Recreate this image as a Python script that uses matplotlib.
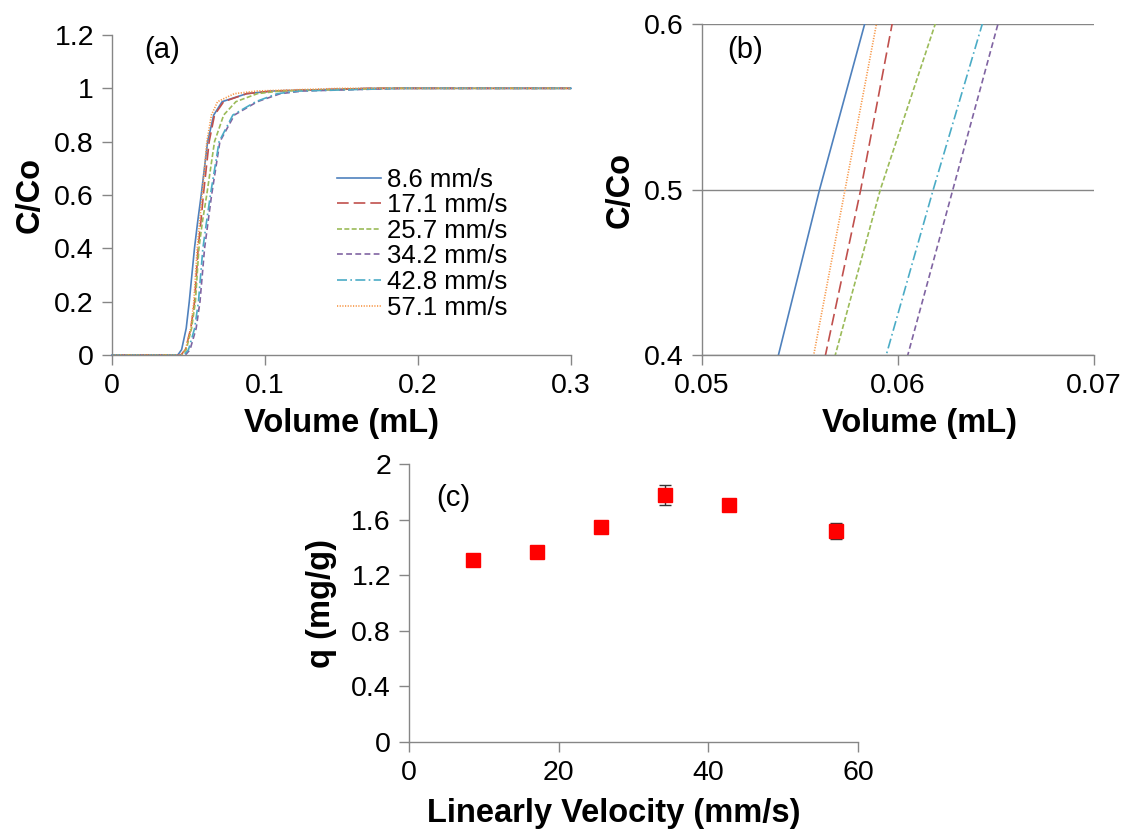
import matplotlib
matplotlib.use("Agg")
import matplotlib.pyplot as plt
from matplotlib.ticker import FuncFormatter

plt.rcParams["font.family"] = ["Liberation Sans", "DejaVu Sans"]

# breakthrough curves, C/Co levels and the volume (mL) where each run reaches them
LEVELS = [0, 0, 0.02, 0.1, 0.2, 0.4, 0.5, 0.6, 0.8, 0.9, 0.95, 0.98, 0.99, 1.0, 1.0]
VOL_8_6 = [0, 0.043, 0.0455, 0.0485, 0.0505, 0.0539, 0.0560, 0.0583, 0.0625, 0.0665, 0.072, 0.088, 0.105, 0.17, 0.3]
VOL_17_1 = [0, 0.045, 0.048, 0.0515, 0.054, 0.0563, 0.0581, 0.0597, 0.0635, 0.067, 0.073, 0.088, 0.105, 0.17, 0.3]
VOL_25_7 = [0, 0.0455, 0.0485, 0.052, 0.0545, 0.0568, 0.0591, 0.0619, 0.067, 0.073, 0.081, 0.095, 0.11, 0.18, 0.3]
VOL_34_2 = [0, 0.048, 0.051, 0.055, 0.0575, 0.0605, 0.0628, 0.0651, 0.0705, 0.080, 0.095, 0.11, 0.125, 0.19, 0.3]
VOL_42_8 = [0, 0.047, 0.050, 0.054, 0.0565, 0.0594, 0.0618, 0.0643, 0.070, 0.079, 0.094, 0.108, 0.122, 0.19, 0.3]
VOL_57_1 = [0, 0.045, 0.048, 0.0515, 0.0535, 0.0557, 0.0573, 0.0589, 0.0620, 0.0650, 0.069, 0.080, 0.095, 0.15, 0.3]

SERIES_LABELS = ["8.6 mm/s", "17.1 mm/s", "25.7 mm/s", "34.2 mm/s", "42.8 mm/s", "57.1 mm/s"]
SERIES_VOLUMES = [VOL_8_6, VOL_17_1, VOL_25_7, VOL_34_2, VOL_42_8, VOL_57_1]

# adsorbed amount vs linear velocity
VELOCITY = [8.6, 17.1, 25.7, 34.2, 42.8, 57.1]
Q_VALUES = [1.308, 1.370, 1.546, 1.774, 1.707, 1.519]
Q_ERRORS = [0.015, 0.015, 0.015, 0.072, 0.015, 0.057]

A_XTICKS = [0, 0.1, 0.2, 0.3]
A_YTICKS = [0, 0.2, 0.4, 0.6, 0.8, 1.0, 1.2]
B_XTICKS = [0.05, 0.06, 0.07]
B_YTICKS = [0.4, 0.5, 0.6]
C_XTICKS = [0, 20, 40, 60]
C_YTICKS = [0, 0.4, 0.8, 1.2, 1.6, 2.0]

SERIES_STYLES = [
    {"color": "#4F81BD", "linestyle": "-"},
    {"color": "#C0504D", "linestyle": (0, (7, 3))},
    {"color": "#9BBB59", "linestyle": (0, (3, 1.4))},
    {"color": "#8064A2", "linestyle": (0, (3.5, 2))},
    {"color": "#4BACC6", "linestyle": (0, (6, 2, 1, 2))},
    {"color": "#F79646", "linestyle": (0, (0.7, 0.9))},
]

AXIS_GRAY = "#868686"
TICK_SIZE = 20.5
LABEL_SIZE = 23.5
PANEL_SIZE = 21
fmt = FuncFormatter(lambda v, p: f"{v:.10g}")


def style_axes(ax):
    for side in ["top", "right"]:
        ax.spines[side].set_visible(False)
    for side in ["left", "bottom"]:
        ax.spines[side].set_color(AXIS_GRAY)
        ax.spines[side].set_linewidth(1)
    ax.tick_params(direction="out", length=7, width=1, color=AXIS_GRAY,
                   labelsize=TICK_SIZE, labelcolor="black", pad=6)
    ax.xaxis.set_major_formatter(fmt)
    ax.yaxis.set_major_formatter(fmt)


fig = plt.figure(figsize=(11.27, 8.31), dpi=100)
W, H = 1127, 831
ax_a = fig.add_axes([112 / W, 1 - 355 / H, 459 / W, 320 / H])
ax_b = fig.add_axes([702 / W, 1 - 355 / H, 392 / W, 331 / H])
ax_c = fig.add_axes([409 / W, 1 - 742 / H, 449 / W, 278 / H])

# (a) full breakthrough curves
for vols, label, style in zip(SERIES_VOLUMES, SERIES_LABELS, SERIES_STYLES):
    ax_a.plot(vols, LEVELS, lw=1.2, label=label, clip_on=False, **style)
ax_a.set_xlim(0, 0.3)
ax_a.set_ylim(0, 1.2)
ax_a.set_xticks(A_XTICKS)
ax_a.set_yticks(A_YTICKS)
style_axes(ax_a)
ax_a.set_xlabel("Volume (mL)", fontsize=LABEL_SIZE, fontweight="bold")
ax_a.set_ylabel("C/Co", fontsize=LABEL_SIZE, fontweight="bold")
ax_a.xaxis.set_label_coords(0.5, -0.165)
ax_a.yaxis.set_label_coords(-0.145, 0.5)
ax_a.text(0.07, 0.953, "(a)", transform=ax_a.transAxes, fontsize=PANEL_SIZE, va="center")
ax_a.legend(loc="upper left", bbox_to_anchor=(0.491, 0.585), frameon=False, fontsize=18.5,
            handlelength=1.7, handletextpad=0.25, labelspacing=0.06, borderpad=0,
            borderaxespad=0)

# (b) zoom on the 0.4-0.6 section
for vols, style in zip(SERIES_VOLUMES, SERIES_STYLES):
    ax_b.plot(vols, LEVELS, lw=1.2, **style)
ax_b.set_xlim(0.05, 0.07)
ax_b.set_ylim(0.4, 0.6)
ax_b.set_xticks(B_XTICKS)
ax_b.set_yticks(B_YTICKS)
style_axes(ax_b)
ax_b.yaxis.grid(True, color=AXIS_GRAY, lw=1)
ax_b.set_axisbelow(True)
ax_b.set_xlabel("Volume (mL)", fontsize=LABEL_SIZE, fontweight="bold")
ax_b.set_ylabel("C/Co", fontsize=LABEL_SIZE, fontweight="bold")
ax_b.xaxis.set_label_coords(0.556, -0.16)
ax_b.yaxis.set_label_coords(-0.17, 0.5)
ax_b.text(0.064, 0.922, "(b)", transform=ax_b.transAxes, fontsize=PANEL_SIZE, va="center")

# (c) q vs linear velocity
ax_c.errorbar(VELOCITY, Q_VALUES, yerr=Q_ERRORS, fmt="none", ecolor="#333333",
              elinewidth=1, capsize=4, capthick=1, zorder=2)
ax_c.plot(VELOCITY, Q_VALUES, "s", color="#FF0000", ms=9.5, zorder=3)
ax_c.set_xlim(0, 60)
ax_c.set_ylim(0, 2)
ax_c.set_xticks(C_XTICKS)
ax_c.set_yticks(C_YTICKS)
style_axes(ax_c)
ax_c.set_xlabel("Linearly Velocity (mm/s)", fontsize=LABEL_SIZE, fontweight="bold")
ax_c.set_ylabel("q (mg/g)", fontsize=LABEL_SIZE, fontweight="bold")
ax_c.xaxis.set_label_coords(0.457, -0.2)
ax_c.yaxis.set_label_coords(-0.16, 0.5)
ax_c.text(0.06, 0.878, "(c)", transform=ax_c.transAxes, fontsize=PANEL_SIZE, va="center")

fig.savefig("out.png", dpi=100)
